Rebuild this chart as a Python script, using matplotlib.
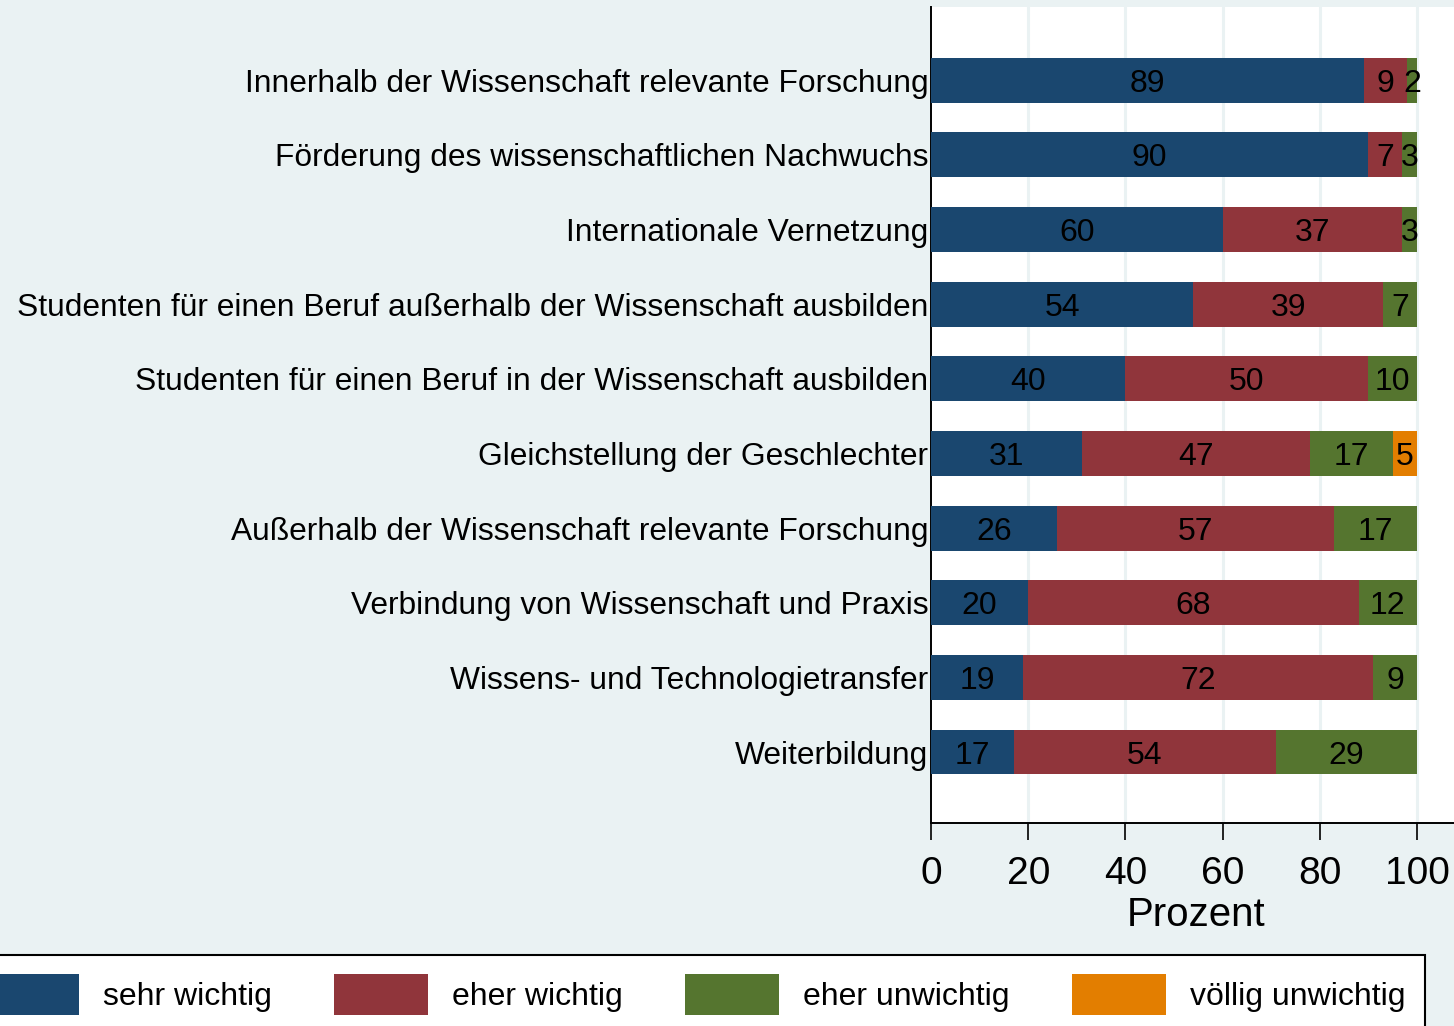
import numpy as np
import matplotlib.pyplot as plt

plt.rcParams['font.family'] = ['Liberation Sans', 'DejaVu Sans']

# --- data (top to bottom) ---
items = [
    'Innerhalb der Wissenschaft relevante Forschung',
    'Förderung des wissenschaftlichen Nachwuchs',
    'Internationale Vernetzung',
    'Studenten für einen Beruf außerhalb der Wissenschaft ausbilden',
    'Studenten für einen Beruf in der Wissenschaft ausbilden',
    'Gleichstellung der Geschlechter',
    'Außerhalb der Wissenschaft relevante Forschung',
    'Verbindung von Wissenschaft und Praxis',
    'Wissens- und Technologietransfer',
    'Weiterbildung',
]
sehr_wichtig = [89, 90, 60, 54, 40, 31, 26, 20, 19, 17]
eher_wichtig = [9, 7, 37, 39, 50, 47, 57, 68, 72, 54]
eher_unwichtig = [2, 3, 3, 7, 10, 17, 17, 12, 9, 29]
voellig_unwichtig = [0, 0, 0, 0, 0, 5, 0, 0, 0, 0]

series = [
    ('sehr wichtig', sehr_wichtig, '#1a476f'),
    ('eher wichtig', eher_wichtig, '#90353b'),
    ('eher unwichtig', eher_unwichtig, '#55752f'),
    ('völlig unwichtig', voellig_unwichtig, '#e37e00'),
]

BG = '#eaf2f3'

fig = plt.figure(figsize=(14.54, 10.26), dpi=100, facecolor=BG)
ax = fig.add_axes([931 / 1454, 1 - 823 / 1026, 1 - 931 / 1454, (823 - 7) / 1026])
ax.set_facecolor('white')

y = np.arange(len(items))
left = np.zeros(len(items))
handles = []
for name, vals, col in series:
    vals = np.array(vals, dtype=float)
    bars = ax.barh(y, vals, left=left, height=0.6, color=col, edgecolor='none',
                   label=name, zorder=3)
    labels = [f'{v:.0f}' if v > 0 else '' for v in vals]
    txts = ax.bar_label(bars, labels=labels, label_type='center', fontsize=23, color='black')
    for t in txts:
        t.set_va('center_baseline')
    handles.append(bars)
    left += vals

ax.set_xlim(0, 523 / 4.86)
ax.set_ylim(9.95, -0.98)
ax.set_xticks([0, 20, 40, 60, 80, 100])
ax.tick_params(axis='x', length=12, width=1.2, labelsize=28, pad=12, direction='out')
ax.tick_params(axis='y', length=0, labelsize=22.9, pad=2)
ax.set_yticks(y)
ax.set_yticklabels(items)
ax.set_xlabel('Prozent', fontsize=29, labelpad=0)
ax.xaxis.set_label_coords(100 * 0.545 / (523 / 4.86), -0.09)

for g in [20, 40, 60, 80, 100]:
    ax.axvline(g, color=BG, linewidth=2.2, zorder=1)

for s in ['top', 'right']:
    ax.spines[s].set_visible(False)
for s in ['left', 'bottom']:
    ax.spines[s].set_linewidth(1.4)
    ax.spines[s].set_color('black')

leg = fig.legend(handles=handles, loc='upper left', ncol=4,
                 bbox_to_anchor=(-34 / 1454, 1 - 955 / 1026),
                 fontsize=23, frameon=True, fancybox=False, framealpha=1,
                 edgecolor='black', handlelength=2.95, handleheight=1.6,
                 handletextpad=0.75, columnspacing=1.94, borderpad=0.6,
                 borderaxespad=0)
leg.get_frame().set_linewidth(1.5)

fig.savefig('out.png', dpi=100, facecolor=BG)
